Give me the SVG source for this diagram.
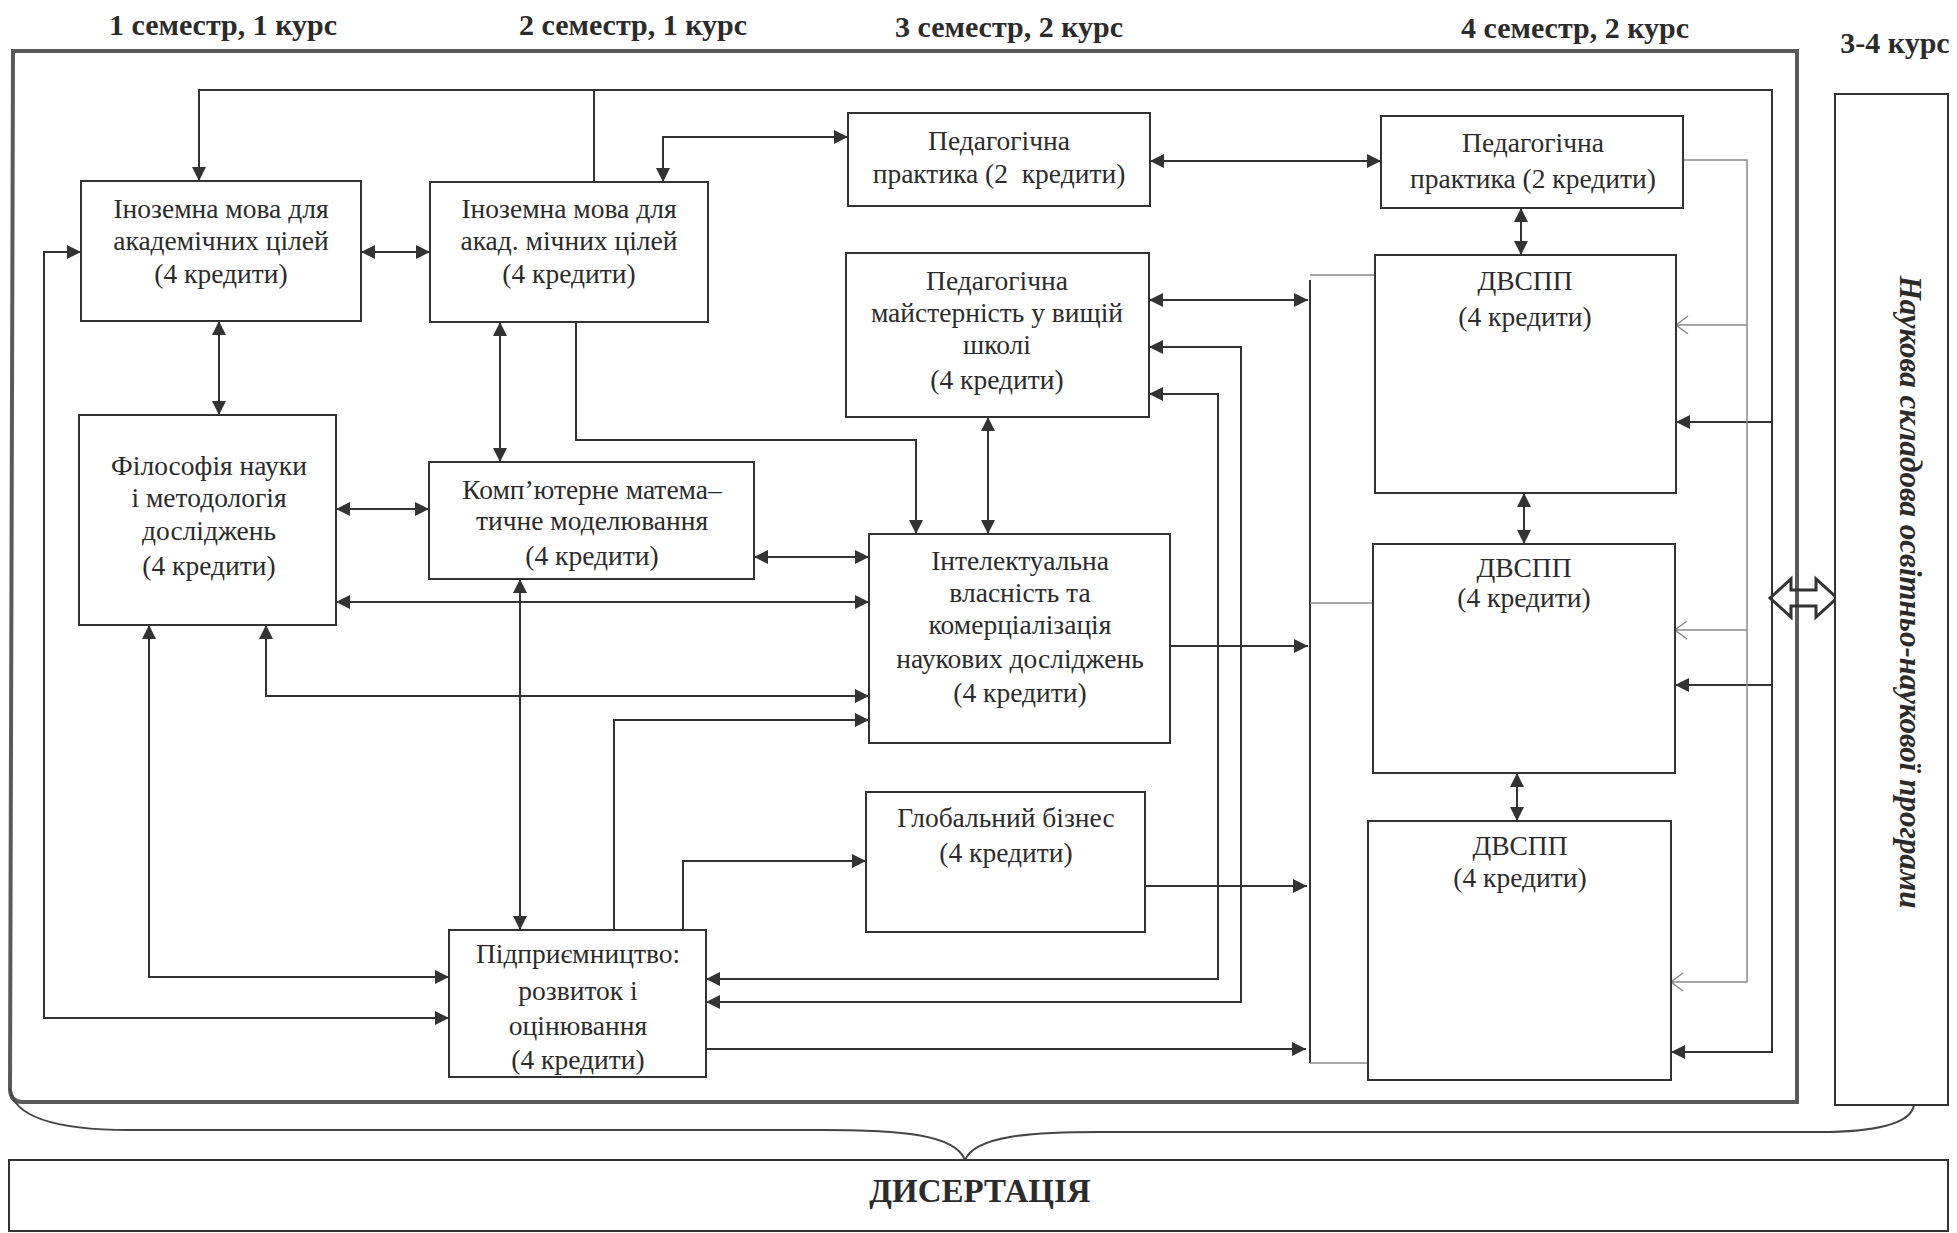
<svg xmlns="http://www.w3.org/2000/svg" width="1957" height="1233" viewBox="0 0 1957 1233">
<defs>
<style>
.box{fill:#fff;stroke:#333;stroke-width:2}
.t{font-family:"Liberation Serif","Times New Roman",serif;font-size:27.5px;fill:#2b2b2b;text-anchor:middle}
.h{font-family:"Liberation Serif","Times New Roman",serif;font-weight:bold;font-size:30px;fill:#2b2b2b;text-anchor:middle}
.c{fill:none;stroke:#333;stroke-width:2}
.g{fill:none;stroke:#8a8a8a;stroke-width:1.5}
.ab{marker-start:url(#a);marker-end:url(#a)}
.ae{marker-end:url(#a)}
.oe{marker-end:url(#o)}
</style>
<marker id="a" viewBox="0 0 14 14" refX="14" refY="7" markerWidth="14" markerHeight="14" markerUnits="userSpaceOnUse" orient="auto-start-reverse"><path d="M0,0 L14,7 L0,14 z" fill="#333"/></marker>
<marker id="o" viewBox="0 0 14 20" refX="13" refY="10" markerWidth="14" markerHeight="20" markerUnits="userSpaceOnUse" orient="auto"><path d="M1,1 L13,10 L1,19" fill="none" stroke="#8a8a8a" stroke-width="1.5"/></marker>
</defs>
<rect width="1957" height="1233" fill="#fff"/>

<g id="titles">
<text class="h" x="223" y="35">1 семестр, 1 курс</text>
<text class="h" x="633" y="35">2 семестр, 1 курс</text>
<text class="h" x="1009" y="37">3 семестр, 2 курс</text>
<text class="h" x="1575" y="38">4 семестр, 2 курс</text>
<text class="h" x="1895" y="53">3-4 курс</text>
</g>

<g id="frame">
<path d="M13,51 H1797 V1102 H22 Q11,1102 10,1090 Z" fill="none" stroke="#5a5a5a" stroke-width="4"/>
</g>

<g id="brace">
<path d="M10,1088 Q14,1130 130,1130 H820 C900,1130 955,1134 965,1160 C975,1136 1030,1132 1100,1132 H1830 Q1910,1130 1914,1105" fill="none" stroke="#444" stroke-width="2"/>
</g>

<g id="connectors">
<path class="c ab" d="M199,181 V90 H1772 V1052 H1671"/>
<path class="c" d="M594,90 V182"/>
<path class="c ae" d="M1772,422 H1676"/>
<path class="c ae" d="M1772,685 H1675"/>
<path class="c ab" d="M663,182 V137 H848"/>
<path class="c ab" d="M361,252 H430"/>
<path class="c ab" d="M449,1018 H44 V252 H81"/>
<path class="c ab" d="M219,321 V415"/>
<path class="c ab" d="M500,322 V462"/>
<path class="c ae" d="M576,322 V440 H916 V534"/>
<path class="c ab" d="M336,509 H429"/>
<path class="c ab" d="M336,602 H869"/>
<path class="c ab" d="M754,557 H869"/>
<path class="c ab" d="M988,417 V534"/>
<path class="c ab" d="M149,625 V977 H449"/>
<path class="c ab" d="M266,625 V696 H869"/>
<path class="c ae" d="M614,930 V720 H869"/>
<path class="c ab" d="M520,579 V930"/>
<path class="c ae" d="M683,930 V861 H866"/>
<path class="c ab" d="M1150,161 H1381"/>
<path class="c ab" d="M1149,300 H1308"/>
<path class="c ab" d="M1149,347 H1241 V1002 H706"/>
<path class="c ab" d="M1149,394 H1218 V979 H706"/>
<path class="c ae" d="M1170,646 H1308"/>
<path class="c ae" d="M1145,886 H1307"/>
<path class="c ae" d="M706,1049 H1306"/>
<path class="c ab" d="M1521,208 V255"/>
<path class="c ab" d="M1524,493 V544"/>
<path class="c ab" d="M1517,773 V821"/>
<path class="c" d="M1310,280 V1063"/>
<path class="g" d="M1310,275 H1375 M1310,603 H1373 M1310,1063 H1368"/>
<path class="g oe" d="M1683,160 H1747 V982 H1671"/>
<path class="g oe" d="M1747,325 H1676"/>
<path class="g oe" d="M1747,630 H1675"/>
<path d="M1770,598 L1791,579 L1791,590 L1816,590 L1816,579 L1837,598 L1816,617 L1816,606 L1791,606 L1791,617 Z" fill="none" stroke="#333" stroke-width="3" stroke-linejoin="miter"/>
</g>

<g id="n1"><rect class="box" x="81" y="181" width="280" height="140"/>
<text class="t" x="221" y="218">Іноземна мова для</text><text class="t" x="221" y="250">академічних цілей</text><text class="t" x="221" y="283">(4 кредити)</text></g>
<g id="n2"><rect class="box" x="430" y="182" width="278" height="140"/>
<text class="t" x="569" y="218">Іноземна мова для</text><text class="t" x="569" y="250">акад. мічних цілей</text><text class="t" x="569" y="283">(4 кредити)</text></g>
<g id="n3"><rect class="box" x="848" y="113" width="302" height="93"/>
<text class="t" x="999" y="150">Педагогічна</text><text class="t" x="999" y="183" style="white-space:pre">практика (2  кредити)</text></g>
<g id="n4"><rect class="box" x="846" y="253" width="303" height="164"/>
<text class="t" x="997" y="290">Педагогічна</text><text class="t" x="997" y="322">майстерність у вищій</text><text class="t" x="997" y="354">школі</text><text class="t" x="997" y="389">(4 кредити)</text></g>
<g id="n5"><rect class="box" x="1381" y="116" width="302" height="92"/>
<text class="t" x="1533" y="152">Педагогічна</text><text class="t" x="1533" y="188">практика (2 кредити)</text></g>
<g id="n6"><rect class="box" x="1375" y="255" width="301" height="238"/>
<text class="t" x="1525" y="290">ДВСПП</text><text class="t" x="1525" y="326">(4 кредити)</text></g>
<g id="n7"><rect class="box" x="1373" y="544" width="302" height="229"/>
<text class="t" x="1524" y="577">ДВСПП</text><text class="t" x="1524" y="607">(4 кредити)</text></g>
<g id="n8"><rect class="box" x="1368" y="821" width="303" height="259"/>
<text class="t" x="1520" y="855">ДВСПП</text><text class="t" x="1520" y="887">(4 кредити)</text></g>
<g id="n9"><rect class="box" x="79" y="415" width="257" height="210"/>
<text class="t" x="209" y="475">Філософія науки</text><text class="t" x="209" y="507">і методологія</text><text class="t" x="209" y="540">досліджень</text><text class="t" x="209" y="575">(4 кредити)</text></g>
<g id="n10"><rect class="box" x="429" y="462" width="325" height="117"/>
<text class="t" x="592" y="499">Комп’ютерне матема–</text><text class="t" x="592" y="530">тичне моделювання</text><text class="t" x="592" y="565">(4 кредити)</text></g>
<g id="n11"><rect class="box" x="869" y="534" width="301" height="209"/>
<text class="t" x="1020" y="570">Інтелектуальна</text><text class="t" x="1020" y="602">власність та</text><text class="t" x="1020" y="634">комерціалізація</text><text class="t" x="1020" y="668">наукових досліджень</text><text class="t" x="1020" y="702">(4 кредити)</text></g>
<g id="n12"><rect class="box" x="866" y="792" width="279" height="140"/>
<text class="t" x="1006" y="827">Глобальний бізнес</text><text class="t" x="1006" y="862">(4 кредити)</text></g>
<g id="n13"><rect class="box" x="449" y="930" width="257" height="147"/>
<text class="t" x="578" y="963">Підприємництво:</text><text class="t" x="578" y="1000">розвиток і</text><text class="t" x="578" y="1035">оцінювання</text><text class="t" x="578" y="1069">(4 кредити)</text></g>

<g id="n14"><rect class="box" x="1835" y="94" width="113" height="1011"/>
<text x="0" y="0" transform="translate(1900,592) rotate(90)" style="font-family:'Liberation Serif','Times New Roman',serif;font-size:31px;font-style:italic;font-weight:bold;fill:#2b2b2b;text-anchor:middle">Наукова складова освітньо-наукової програми</text></g>

<g id="n15"><rect class="box" x="9" y="1160" width="1939" height="71"/>
<text x="980" y="1202" style="font-family:'Liberation Serif','Times New Roman',serif;font-size:33px;font-weight:bold;fill:#2b2b2b;text-anchor:middle">ДИСЕРТАЦІЯ</text></g>
</svg>
